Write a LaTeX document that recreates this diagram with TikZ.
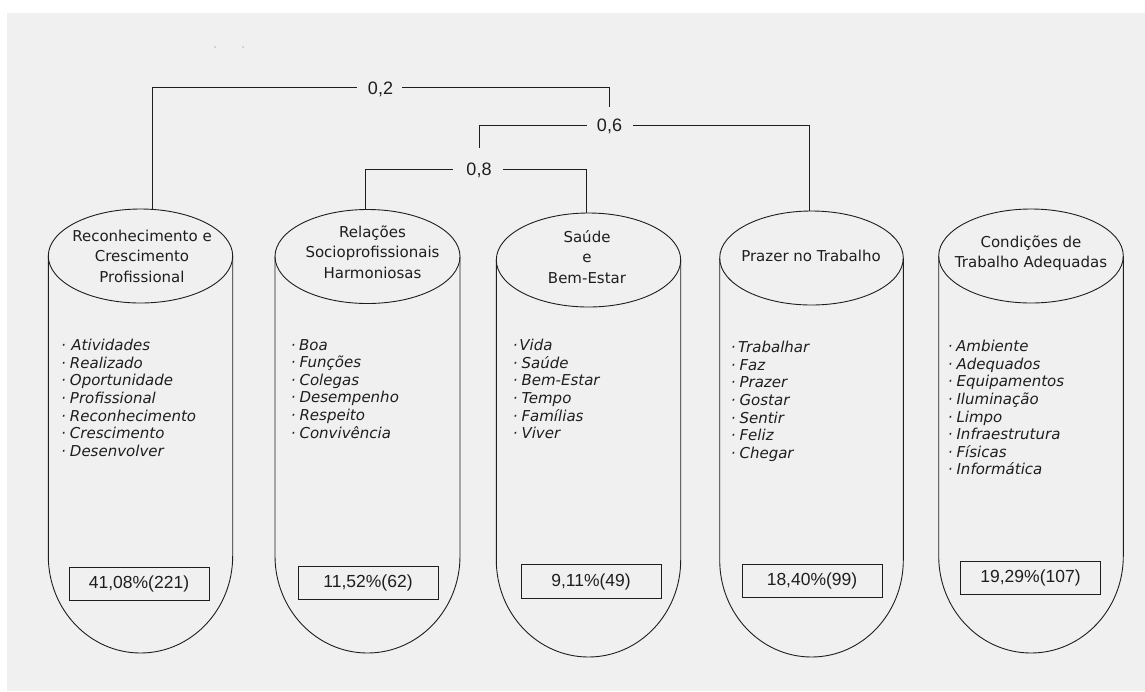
\documentclass[tikz,border=0pt]{standalone}
\usepackage{fontspec}
\setmainfont{DejaVu Sans}
\newfontfamily\arialf{Liberation Sans}
\usetikzlibrary{calc}
\definecolor{bg}{HTML}{F0F0F0}
\definecolor{ink}{HTML}{1E1E1E}
\newcommand\itemdot{\textperiodcentered\hspace{\bgap}}
\def\bgap{4pt}
\tikzset{
  cylline/.style={draw=ink, line width=0.9pt},
  title/.style={align=center, font=\fontsize{15}{20.5}\selectfont, text=ink, inner sep=0pt},
  items/.style={align=left, anchor=north west, font=\itshape\fontsize{15}{17.6}\selectfont, text=ink, inner sep=0pt},
  pct/.style={draw=ink, line width=0.8pt, minimum width=140pt, minimum height=33.5pt, inner sep=0pt, font=\arialf\fontsize{17.5}{20}\selectfont, text=ink},
  coef/.style={inner sep=0pt, text height=13pt, text depth=0pt, font=\arialf\fontsize{18}{20}\selectfont, text=ink},
  conn/.style={draw=ink, line width=1pt},
}
\newcommand\cylinder[4]{%
  \draw[cylline] (#1,#2) ellipse[x radius=#4pt, y radius=47pt];
  \draw[cylline] (#1-#4,#2) -- (#1-#4,#3) arc[start angle=180, end angle=360, x radius=#4pt, y radius=97pt] -- (#1+#4,#2);
}
\begin{document}
\begin{tikzpicture}[x=1pt,y=-1pt]
\useasboundingbox (0,0) rectangle (1145,691);
\fill[white] (0,0) rectangle (1145,691);
\fill[bg] (7,13) rectangle (1145,691);
\fill[gray!55] (215,47) circle[radius=0.8pt];
\fill[gray!55] (243,47) circle[radius=0.8pt];

% cylinders
\cylinder{140.5}{256}{556}{92.2}
\cylinder{367.5}{256.5}{556}{92.5}
\cylinder{588.5}{260}{560}{92.2}
\cylinder{811.5}{258}{560}{91.8}
\cylinder{1031}{256}{556}{92.3}

% connector end points on ellipse tops
\coordinate (top1) at (152,209.5);
\coordinate (top2) at (365.5,209.5);
\coordinate (top3) at (586,213);
\coordinate (top4) at (809,211);

% titles
\node[title] (n1) at (142,256) {Reconhecimento e\\Crescimento\\Profissional};
\node[title] (n2) at (372.5,252) {Relações\\Socioprofissionais\\Harmoniosas};
\node[title] (n3) at (587,257) {Saúde\\e\\Bem-Estar};
\node[title] (n4) at (811,256) {Prazer no Trabalho};
\node[title] (n5) at (1031,253) {Condições de\\Trabalho Adequadas};

% item lists
\node[items] (i1) at (61,339) {\def\bgap{5.5pt}\itemdot Atividades\\\itemdot Realizado\\\itemdot Oportunidade\\\itemdot Profissional\\\itemdot Reconhecimento\\\itemdot Crescimento\\\itemdot Desenvolver};
\node[items] (i2) at (290.6,339) {\def\bgap{3.6pt}\itemdot Boa\\\itemdot Funções\\\itemdot Colegas\\\itemdot Desempenho\\\itemdot Respeito\\\itemdot Convivência};
\node[items] (i3) at (512.6,339) {\def\bgap{1.8pt}\itemdot Vida\\\itemdot Saúde\\\itemdot Bem-Estar\\\itemdot Tempo\\\itemdot Famílias\\\itemdot Viver};
\node[items] (i4) at (730.6,341) {\def\bgap{2.6pt}\itemdot Trabalhar\\\itemdot Faz\\\itemdot Prazer\\\itemdot Gostar\\\itemdot Sentir\\\itemdot Feliz\\\itemdot Chegar};
\node[items] (i5) at (947.6,340) {\def\bgap{3.6pt}\itemdot Ambiente\\\itemdot Adequados\\\itemdot Equipamentos\\\itemdot Iluminação\\\itemdot Limpo\\\itemdot Infraestrutura\\\itemdot Físicas\\\itemdot Informática};

% percentage boxes
\node[pct] (p1) at (139,584) {41,08\%(221)};
\node[pct] (p2) at (368,583) {11,52\%(62)};
\node[pct] (p3) at (591,581.5) {9,11\%(49)};
\node[pct] (p4) at (812,581) {18,40\%(99)};
\node[pct] (p5) at (1030.5,578) {19,29\%(107)};

% coefficients
\node[coef] (l2) at (380.5,87.5) {0,2};
\node[coef] (l6) at (609.5,125) {0,6};
\node[coef] (l8) at (479,169) {0,8};

% connectors
\draw[conn, shorten >=11pt] (top1) |- (l2.west);
\draw[conn, shorten <=9pt, shorten >=11.5pt] (l2.east) -| (l6.north);
\draw[conn, shorten <=10pt, shorten >=14.5pt] (l6.west) -| (l8.north);
\draw[conn, shorten <=11pt] (l6.east) -| (top4);
\draw[conn, shorten <=13.5pt] (l8.west) -| (top2);
\draw[conn, shorten <=11.5pt] (l8.east) -| (top3);
\end{tikzpicture}
\end{document}
